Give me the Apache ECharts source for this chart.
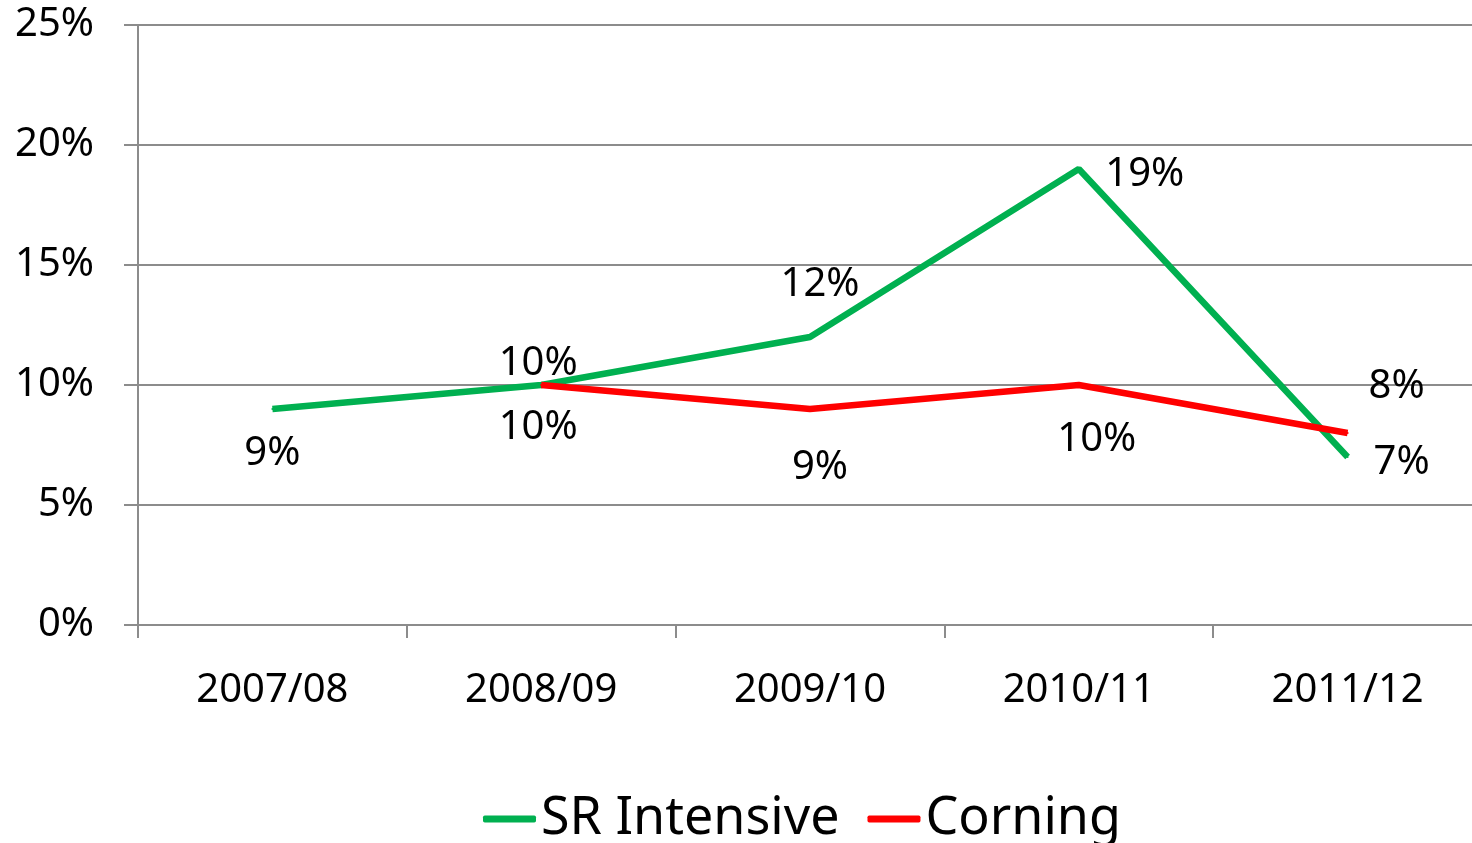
<!DOCTYPE html>
<html>
<head>
<meta charset="utf-8">
<script src="https://cdn.jsdelivr.net/npm/echarts@6/dist/echarts.min.js"></script>
<style>
  html, body { margin: 0; padding: 0; background: #fff; }
  #chart { width: 1472px; height: 843px; }
</style>
</head>
<body>
<div id="chart"></div>
<script>
// 数据
const categories = ['2007/08', '2008/09', '2009/10', '2010/11', '2011/12'];
const srIntensive = [9, 10, 12, 19, 7];
const corning = [null, 10, 9, 10, 8];
const yTicks = [0, 5, 10, 15, 20, 25];

// label offsets (px from point), one per category
const srOffsets = [[0, 45], [-3, -21], [10, -52], [66, 6], [54, 6]];
const corningOffsets = [null, [-3, 43], [10, 59], [18, 55], [49, -46]];

const FONT = "'Noto Sans', sans-serif";

function withLabels(values, offsets) {
  return values.map((v, i) => {
    if (v === null) return null;
    return {
      value: v,
      label: { show: true, position: 'inside', offset: offsets[i] },
    };
  });
}

const chart = echarts.init(document.getElementById('chart'));
chart.setOption({
  animation: false,
  color: ['#00b050', '#ff0000'],
  grid: {
    left: 138,
    top: 25,
    width: 1344,
    height: 600,
    containLabel: false,
    outerBoundsMode: 'none',
  },
  legend: {
    left: 478,
    top: 784,
    icon: 'roundRect',
    itemWidth: 53,
    itemHeight: 7,
    itemGap: 28,
    textStyle: {
      fontFamily: FONT,
      fontSize: 52,
      color: '#000',
      lineHeight: 60,
    },
    data: ['SR Intensive', 'Corning'],
  },
  xAxis: {
    type: 'category',
    data: categories,
    boundaryGap: true,
    axisLine: { lineStyle: { color: '#8c8c8c', width: 2 } },
    axisTick: { show: true, length: 13, lineStyle: { color: '#8c8c8c', width: 2 } },
    axisLabel: {
      margin: 46,
      fontFamily: FONT,
      fontSize: 40,
      lineHeight: 40,
      color: '#000',
    },
  },
  yAxis: {
    type: 'value',
    min: yTicks[0],
    max: yTicks[yTicks.length - 1],
    interval: 5,
    axisLine: { show: true, lineStyle: { color: '#8c8c8c', width: 2 } },
    axisTick: { show: true, length: 14, lineStyle: { color: '#8c8c8c', width: 2 } },
    splitLine: { lineStyle: { color: '#8c8c8c', width: 2 } },
    axisLabel: {
      margin: 44,
      padding: [5, 0, 0, 0],
      fontFamily: FONT,
      fontSize: 40,
      color: '#000',
      formatter: (v) => `${v}%`,
    },
  },
  series: [
    {
      name: 'SR Intensive',
      type: 'line',
      data: withLabels(srIntensive, srOffsets),
      symbol: 'circle',
      symbolSize: 2,
      lineStyle: { width: 6.5, color: '#00b050' },
      itemStyle: { color: '#00b050' },
      label: {
        fontFamily: FONT,
        fontSize: 40,
        color: '#000',
        formatter: (p) => `${p.value}%`,
      },
      z: 2,
    },
    {
      name: 'Corning',
      type: 'line',
      data: withLabels(corning, corningOffsets),
      symbol: 'circle',
      symbolSize: 2,
      lineStyle: { width: 6.5, color: '#ff0000' },
      itemStyle: { color: '#ff0000' },
      label: {
        fontFamily: FONT,
        fontSize: 40,
        color: '#000',
        formatter: (p) => `${p.value}%`,
      },
      z: 3,
    },
  ],
});
</script>
</body>
</html>
